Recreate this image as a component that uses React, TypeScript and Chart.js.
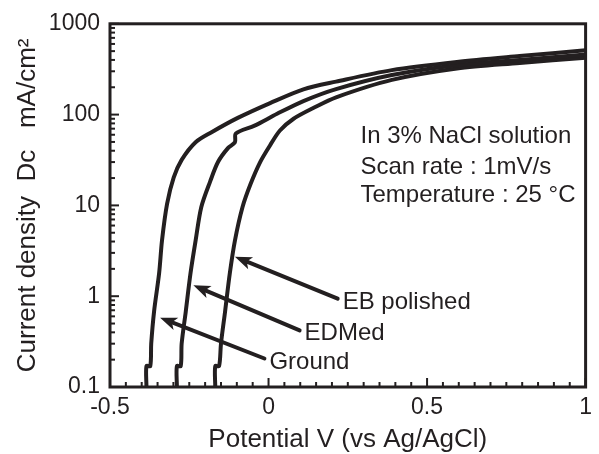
import React, { useEffect, useRef } from 'react';
import { Chart, registerables } from 'chart.js';

Chart.register(...registerables);

// ---- data ----
const groundX = [-0.385, -0.385, -0.373, -0.370, -0.361, -0.345, -0.336, -0.320, -0.299, -0.274, -0.230, -0.181, -0.097, 0.005, 0.110, 0.213, 0.389, 0.594, 0.792, 1.0];
const groundY = [0.1, 0.17, 0.17, 0.30, 0.68, 1.8, 4.1, 10.4, 20.3, 31.7, 49.6, 63.6, 92, 134, 190, 231, 309, 380, 441, 510];

const edmX = [-0.289, -0.289, -0.277, -0.274, -0.261, -0.246, -0.230, -0.212, -0.184, -0.159, -0.128, -0.106, -0.103, -0.044, 0.027, 0.110, 0.213, 0.389, 0.594, 0.792, 1.0];
const edmY = [0.1, 0.17, 0.17, 0.30, 0.68, 1.8, 4.1, 9.6, 18.4, 30.2, 42.7, 49.6, 62, 75.6, 102, 141, 191, 273, 350, 399, 460];

const ebX = [-0.168, -0.168, -0.156, -0.150, -0.137, -0.122, -0.106, -0.082, -0.057, -0.026, 0.005, 0.036, 0.079, 0.141, 0.213, 0.389, 0.594, 0.792, 1.0];
const ebY = [0.1, 0.17, 0.17, 0.30, 0.68, 1.8, 4.1, 9.6, 17.1, 30.2, 46, 66.8, 90, 118, 155, 241, 322, 370, 423];

const seriesNames = ['Ground', 'EDMed', 'EB polished'];
const arrowTipX = [-0.342, -0.237, -0.106];
const arrowTipY = [0.58, 1.32, 2.72];
const arrowTailX = [-0.013, 0.098, 0.218];
const arrowTailY = [0.206, 0.42, 0.94];

const xTickValues = [-0.5, 0, 0.5, 1];
const xTickLabels = ['-0.5', '0', '0.5', '1'];
const yTickValues = [0.1, 1, 10, 100, 1000];
const yTickLabels = ['0.1', '1', '10', '100', '1000'];

const xTitle = 'Potential V (vs Ag/AgCl)';
const yTitle = 'Current density  Dc   mA/cm\u00B2';
const conditionLines = ['In 3% NaCl solution', 'Scan rate : 1mV/s', 'Temperature : 25 \u00B0C'];

const FONT = '"Liberation Sans", Arial, Helvetica, sans-serif';
const INK = '#231f20';

const toPoints = (xs: number[], ys: number[]) => xs.map((x, i) => ({ x, y: ys[i] }));

const decorPlugin = {
  id: 'decor',
  afterDatasetsDraw(chart: any) {
    const { ctx, chartArea: a, scales } = chart;
    const xs = scales.x;
    const ys = scales.y;
    ctx.save();
    ctx.strokeStyle = INK;
    ctx.fillStyle = INK;
    // frame
    ctx.lineWidth = 3;
    ctx.strokeRect(a.left, a.top, a.right - a.left, a.bottom - a.top);
    // x ticks (inside)
    ctx.lineWidth = 2;
    for (let i = 0; i <= 30; i++) {
      const v = -0.5 + i * 0.05;
      const px = xs.getPixelForValue(v);
      const major = i % 10 === 0;
      ctx.beginPath();
      ctx.moveTo(px, a.bottom);
      ctx.lineTo(px, a.bottom - (major ? 9 : 5));
      ctx.stroke();
    }
    // y ticks (inside, log)
    for (let e = -1; e <= 3; e++) {
      for (let k = 1; k <= 9; k++) {
        const v = k * Math.pow(10, e);
        if (v > 1000.0001) break;
        const py = ys.getPixelForValue(v);
        const major = k === 1;
        ctx.beginPath();
        ctx.moveTo(a.left, py);
        ctx.lineTo(a.left + (major ? 9 : 5), py);
        ctx.stroke();
      }
    }
    // arrows + labels
    ctx.font = `24px ${FONT}`;
    ctx.textAlign = 'left';
    ctx.textBaseline = 'alphabetic';
    for (let i = 0; i < seriesNames.length; i++) {
      const tx = xs.getPixelForValue(arrowTailX[i]);
      const ty = ys.getPixelForValue(arrowTailY[i]);
      const hx = xs.getPixelForValue(arrowTipX[i]);
      const hy = ys.getPixelForValue(arrowTipY[i]);
      const ang = Math.atan2(hy - ty, hx - tx);
      const headLen = 17;
      const headW = 6.5;
      const bx = hx - Math.cos(ang) * headLen * 0.8;
      const by = hy - Math.sin(ang) * headLen * 0.8;
      ctx.lineWidth = 4;
      ctx.lineCap = 'round';
      ctx.beginPath();
      ctx.moveTo(tx, ty);
      ctx.lineTo(bx, by);
      ctx.stroke();
      const rx = hx - Math.cos(ang) * headLen;
      const ry = hy - Math.sin(ang) * headLen;
      ctx.beginPath();
      ctx.moveTo(hx, hy);
      ctx.lineTo(rx + Math.sin(ang) * headW, ry - Math.cos(ang) * headW);
      ctx.lineTo(hx - Math.cos(ang) * headLen * 0.75, hy - Math.sin(ang) * headLen * 0.75);
      ctx.lineTo(rx - Math.sin(ang) * headW, ry + Math.cos(ang) * headW);
      ctx.closePath();
      ctx.fill();
      ctx.fillText(seriesNames[i], tx + 5, ty + 10);
    }
    // condition text block
    const bxLeft = xs.getPixelForValue(0.29);
    const baselines = [119, 150, 178];
    conditionLines.forEach((t, i) => {
      ctx.fillText(t, bxLeft, a.top + baselines[i]);
    });
    ctx.restore();
  },
};

export default function App() {
  const ref = useRef<HTMLCanvasElement | null>(null);
  useEffect(() => {
    if (!ref.current) return;
    const chart = new Chart(ref.current, {
      type: 'line',
      data: {
        datasets: [
          { label: seriesNames[0], data: toPoints(groundX, groundY) },
          { label: seriesNames[1], data: toPoints(edmX, edmY) },
          { label: seriesNames[2], data: toPoints(ebX, ebY) },
        ].map((d) => ({
          ...d,
          borderColor: INK,
          borderWidth: 4,
          pointRadius: 0,
          tension: 0.3,
          fill: false,
          borderJoinStyle: 'round' as const,
        })),
      },
      plugins: [decorPlugin],
      options: {
        animation: false,
        responsive: false,
        layout: { padding: { left: 0, right: 5, top: 16, bottom: 0 } },
        plugins: { legend: { display: false }, tooltip: { enabled: false } },
        scales: {
          x: {
            type: 'linear',
            min: -0.5,
            max: 1,
            grid: { display: false, drawTicks: false },
            border: { display: false },
            afterFit: (s: any) => { s.height = 67; },
            afterBuildTicks: (s: any) => { s.ticks = xTickValues.map((v) => ({ value: v })); },
            ticks: {
              autoSkip: false,
              maxRotation: 0,
              padding: 7,
              color: INK,
              font: { family: FONT, size: 23 },
              callback: (v: any) => {
                const i = xTickValues.findIndex((t) => Math.abs(t - Number(v)) < 1e-9);
                return i >= 0 ? xTickLabels[i] : '';
              },
            },
            title: {
              display: true,
              text: xTitle,
              color: INK,
              font: { family: FONT, size: 26, lineHeight: 1 },
              padding: { top: 0, bottom: 1 },
            },
          },
          y: {
            type: 'logarithmic',
            min: 0.1,
            max: 1000,
            grid: { display: false, drawTicks: false },
            border: { display: false },
            afterFit: (s: any) => { s.width = 110; },
            afterBuildTicks: (s: any) => { s.ticks = yTickValues.map((v) => ({ value: v })); },
            ticks: {
              autoSkip: false,
              padding: 10,
              color: INK,
              font: { family: FONT, size: 23 },
              callback: (v: any) => {
                const i = yTickValues.findIndex((t) => Math.abs(t - Number(v)) < 1e-9 * t + 1e-12);
                return i >= 0 ? yTickLabels[i] : '';
              },
            },
            title: {
              display: true,
              text: yTitle,
              color: INK,
              font: { family: FONT, size: 26, lineHeight: 1 },
              padding: { top: 15, bottom: 0 },
            },
          },
        },
      },
    } as any);
    return () => chart.destroy();
  }, []);
  return (
    <div style={{ position: 'absolute', left: 0, top: 0, width: 599, height: 454, background: '#fff' }}>
      <canvas ref={ref} width={599} height={454} style={{ display: 'block' }} />
    </div>
  );
}
